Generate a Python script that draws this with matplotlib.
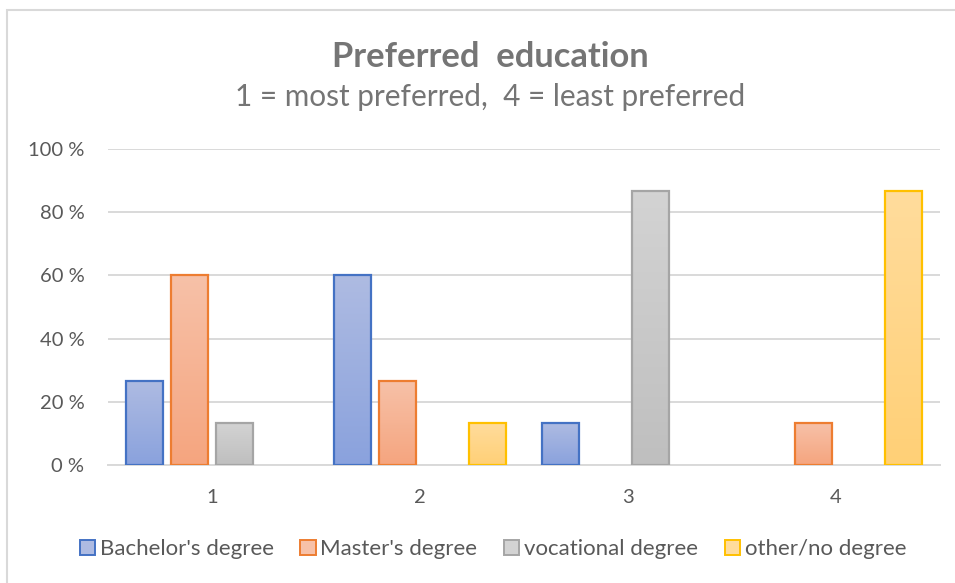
import numpy as np
import matplotlib.pyplot as plt
from matplotlib.patches import Patch, Rectangle
from matplotlib.colors import LinearSegmentedColormap

plt.rcParams['font.family'] = ['Lato', 'DejaVu Sans']

# survey answers (n = 15), share of respondents per rank
ranks = ['1', '2', '3', '4']
bachelor = [26.7, 60.0, 13.3, 0.0]
master = [60.0, 26.7, 0.0, 13.3]
vocational = [13.3, 0.0, 86.7, 0.0]
other = [0.0, 13.3, 0.0, 86.7]
series_names = ["Bachelor's degree", "Master's degree", 'vocational degree', 'other/no degree']
y_ticks = [0, 20, 40, 60, 80, 100]

# (edge, gradient top, gradient bottom)
styles = [
    ('#4472C4', '#AEBBE2', '#8AA2DD'),
    ('#ED7D31', '#F7C1A8', '#F5A57F'),
    ('#A5A5A5', '#D3D3D3', '#BFBFBF'),
    ('#FFC000', '#FFDC9C', '#FFD077'),
]

fig = plt.figure(figsize=(9.55, 5.83), dpi=100)
ax = fig.add_axes([0.1131, 0.2024, 0.8712, 0.542])

x = np.arange(1, len(ranks) + 1)
width = 0.178
pitch = 0.216
handles = []
for i, (vals, name) in enumerate(zip([bachelor, master, vocational, other], series_names)):
    edge, top, bottom = styles[i]
    cmap = LinearSegmentedColormap.from_list(name, [bottom, top])
    offs = x + (i - 1.5) * pitch
    bars = ax.bar(offs, vals, width, facecolor='none', edgecolor=edge,
                  linewidth=1.6, zorder=3)
    for b in bars:
        h = b.get_height()
        if h <= 0:
            b.set_visible(False)
            continue
        grad = np.linspace(0, 1, 64).reshape(-1, 1)
        ax.imshow(grad, cmap=cmap, origin='lower', aspect='auto',
                  extent=(b.get_x(), b.get_x() + b.get_width(), 0, h), zorder=2)
    handles.append(Patch(facecolor=top, edgecolor=edge, linewidth=1.4, label=name))

ax.set_xlim(0.5, 4.5)
ax.set_ylim(0, 100)
ax.set_xticks(x)
ax.set_xticklabels(ranks)
ax.set_yticks(y_ticks)
ax.set_yticklabels([f'{t} %' for t in y_ticks])
ax.tick_params(axis='both', length=0, labelsize=14.5, colors='#595959')
ax.tick_params(axis='y', pad=17)
ax.tick_params(axis='x', pad=17)
ax.grid(axis='y', color='#D9D9D9', linewidth=1.4, zorder=0)
ax.set_axisbelow(True)
for side in ['top', 'right', 'left']:
    ax.spines[side].set_visible(False)
ax.spines['bottom'].set_color('#D9D9D9')
ax.spines['bottom'].set_linewidth(1.4)

fig.text(0.513, 0.903, 'Preferred  education', ha='center', va='center',
         fontsize=24.8, fontweight='bold', color='#757575')
fig.text(0.513, 0.833, '1 = most preferred,  4 = least preferred', ha='center',
         va='center', fontsize=21.4, color='#757575')

leg = fig.legend(handles=handles, loc='center', bbox_to_anchor=(0.516, 0.058),
                 ncol=4, frameon=False, fontsize=16, handlelength=0.7,
                 handleheight=0.7, handletextpad=0.2, columnspacing=1.2)
for t in leg.get_texts():
    t.set_color('#595959')

# chart frame
fig.patches.append(Rectangle((7 / 955, -0.02), 1.1, 1 - 10 / 583 + 0.02,
                             transform=fig.transFigure, fill=False,
                             edgecolor='#D9D9D9', linewidth=1.5))

fig.savefig('out.png', dpi=100)
